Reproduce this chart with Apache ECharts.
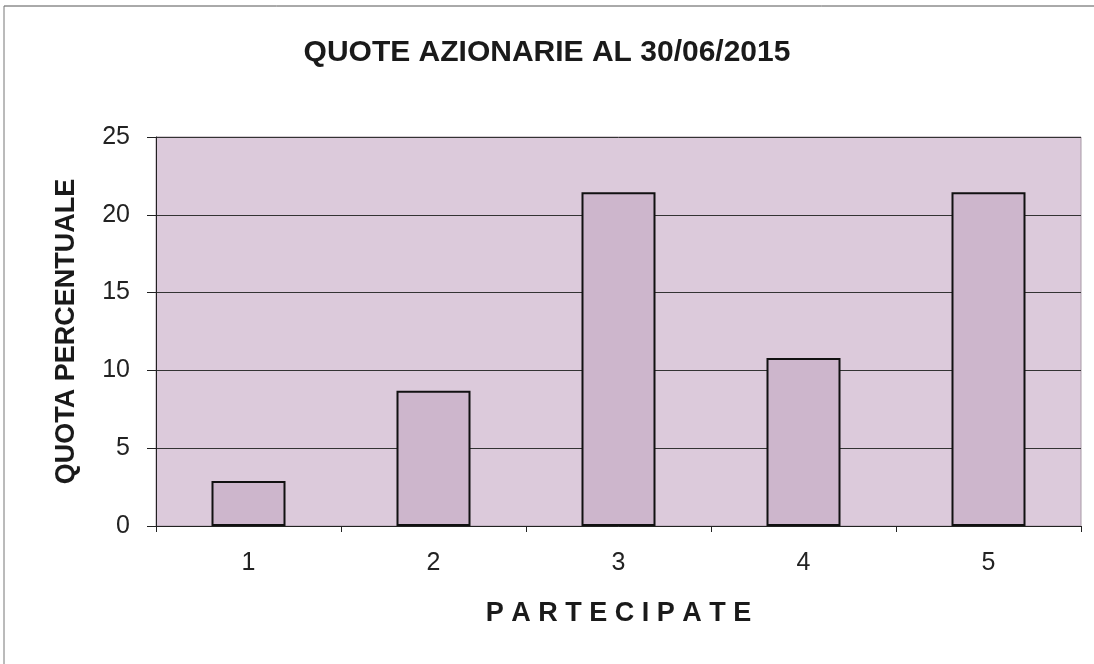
<!DOCTYPE html>
<html>
<head>
<meta charset="utf-8">
<script src="https://cdn.jsdelivr.net/npm/echarts@6/dist/echarts.min.js"></script>
<style>
  html, body { margin: 0; padding: 0; background: #fff; }
  #chart { width: 1094px; height: 664px; }
</style>
</head>
<body>
<div id="chart"></div>
<script>
// dati
var categorie = ['1', '2', '3', '4', '5'];
var quote = [2.9, 8.7, 21.45, 10.8, 21.45];
var yTicks = [0, 5, 10, 15, 20, 25];

var chart = echarts.init(document.getElementById('chart'));

var option = {
  backgroundColor: '#ffffff',
  textStyle: { fontFamily: 'Liberation Sans, Arial, sans-serif' },
  title: {
    text: 'QUOTE AZIONARIE AL 30/06/2015',
    left: 'center',
    top: 33,
    textStyle: { fontSize: 30, fontWeight: 'bold', color: '#1a1a1a', fontFamily: 'Liberation Sans, Arial, sans-serif' }
  },
  graphic: [
    // cornice esterna (scansione)
    { type: 'line', shape: { x1: 4, y1: 6, x2: 1094, y2: 6 }, style: { stroke: '#555', lineWidth: 1 } },
    { type: 'line', shape: { x1: 4, y1: 6, x2: 4, y2: 664 }, style: { stroke: '#777', lineWidth: 1 } }
  ],
  grid: {
    left: 156,
    right: 13,
    top: 137,
    bottom: 138,
    show: true,
    backgroundColor: '#dccadb',
    borderColor: '#a89aa6',
    borderWidth: 1
  },
  xAxis: {
    type: 'category',
    data: categorie,
    name: 'P A R T E C I P A T E',
    nameLocation: 'middle',
    nameGap: 74,
    nameTextStyle: { fontSize: 27, fontWeight: 'bold', color: '#1a1a1a' },
    axisLine: { lineStyle: { color: '#222', width: 1 } },
    axisTick: { show: true, length: 6, lineStyle: { color: '#222' } },
    axisLabel: { fontSize: 25, color: '#222', margin: 25 }
  },
  yAxis: {
    type: 'value',
    min: 0,
    max: 25,
    interval: 5,
    name: 'QUOTA PERCENTUALE',
    nameLocation: 'middle',
    nameGap: 76,
    nameTextStyle: { fontSize: 27, fontWeight: 'bold', color: '#1a1a1a' },
    axisLine: { show: true, lineStyle: { color: '#222', width: 1 } },
    axisTick: { show: true, length: 9, lineStyle: { color: '#222' } },
    axisLabel: {
      fontSize: 25, color: '#222', margin: 26,
      formatter: function (v) { return yTicks.indexOf(v) >= 0 ? String(v) : ''; }
    },
    splitLine: { show: true, lineStyle: { color: '#333', width: 1 } }
  },
  series: [{
    type: 'bar',
    data: quote,
    barWidth: '40%',
    itemStyle: {
      color: '#cdb6cc',
      borderColor: '#111',
      borderWidth: 2
    }
  }]
};

chart.setOption(option);
</script>
</body>
</html>
